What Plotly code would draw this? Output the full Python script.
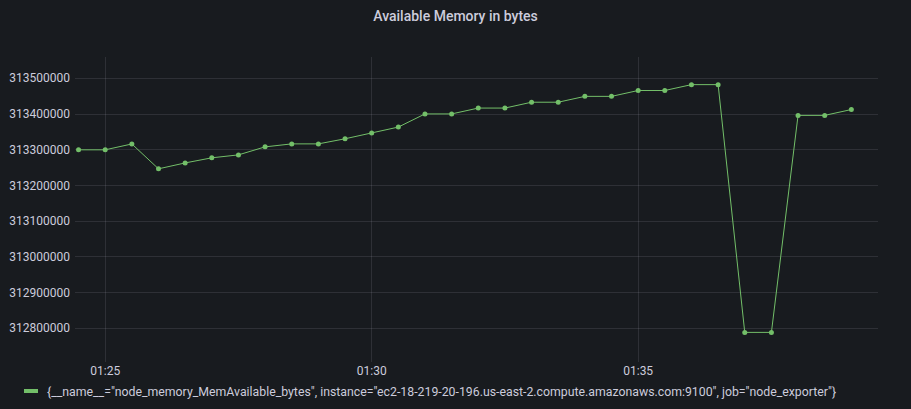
import plotly.graph_objects as go

TITLE = "Available Memory in bytes"
SERIES_NAME = '{__name__="node_memory_MemAvailable_bytes", instance="ec2-18-219-20-196.us-east-2.compute.amazonaws.com:9100", job="node_exporter"}'

DATE = "2021-01-01"
times = [
    "01:24:30", "01:25:00", "01:25:30", "01:26:00", "01:26:30", "01:27:00",
    "01:27:30", "01:28:00", "01:28:30", "01:29:00", "01:29:30", "01:30:00",
    "01:30:30", "01:31:00", "01:31:30", "01:32:00", "01:32:30", "01:33:00",
    "01:33:30", "01:34:00", "01:34:30", "01:35:00", "01:35:30", "01:36:00",
    "01:36:30", "01:37:00", "01:37:30", "01:38:00", "01:38:30", "01:39:00",
]
mem_available = [
    313299700, 313299700, 313316100, 313246500, 313263000, 313277300,
    313285500, 313308000, 313316300, 313316300, 313330600, 313347000,
    313363400, 313400200, 313400200, 313416600, 313416600, 313433000,
    313433000, 313449400, 313449400, 313465800, 313465800, 313482200,
    313482200, 312788500, 312788500, 313396100, 313396100, 313412500,
]
y_ticks = [312800000, 312900000, 313000000, 313100000, 313200000,
           313300000, 313400000, 313500000]
y_range = [312705600, 313559600]
x_range = [DATE + " 01:24:26", DATE + " 01:39:30"]

x = [DATE + " " + t for t in times]

BG = "#181b1f"
TEXT = "#ccccdc"
GRID = "rgba(204,204,220,0.12)"
GREEN = "#73bf69"

W, H = 911, 409
ML, MR, MT, MB = 75, 33, 57, 47
PW, PH = W - ML - MR, H - MT - MB


def px_x(p):
    return (p - ML) / PW


def px_y(p):
    return (H - MB - p) / PH


fig = go.Figure()
fig.add_trace(go.Scatter(
    x=x, y=mem_available, mode="lines+markers", name=SERIES_NAME,
    line=dict(color=GREEN, width=1),
    marker=dict(color=GREEN, size=5),
    showlegend=False, hoverinfo="x+y",
))

# Grafana-style legend: short thick colour bar + series label
fig.add_shape(type="rect", xref="paper", yref="paper",
              x0=px_x(24), x1=px_x(38), y0=px_y(393), y1=px_y(389),
              fillcolor=GREEN, line=dict(width=0), layer="above")
fig.add_annotation(text=SERIES_NAME, xref="paper", yref="paper",
                   x=px_x(45), y=px_y(392), xanchor="left", yanchor="middle",
                   showarrow=False, font=dict(size=12.3, color=TEXT))

fig.update_layout(
    width=W, height=H,
    paper_bgcolor=BG, plot_bgcolor=BG,
    margin=dict(l=ML, r=MR, t=MT, b=MB, autoexpand=False),
    font=dict(family="Roboto, Inter, sans-serif", size=12, color=TEXT),
    title=dict(text=TITLE, x=0.5, xanchor="center", xref="container",
               y=1 - 16 / H, yanchor="middle", yref="container",
               font=dict(size=14, color=TEXT, family="Roboto, sans-serif", weight=500)),
    showlegend=False,
    xaxis=dict(type="date", range=x_range, dtick=5 * 60 * 1000,
               tick0=DATE + " 01:25:00", tickformat="%H:%M",
               showgrid=True, gridcolor=GRID, gridwidth=1,
               zeroline=False, showline=False, ticks="", ticklen=0,
               tickfont=dict(size=12, color=TEXT)),
    yaxis=dict(range=y_range, tickvals=y_ticks,
               ticktext=[str(v) for v in y_ticks],
               showgrid=True, gridcolor=GRID, gridwidth=1,
               zeroline=False, showline=False, ticks="", ticklen=0,
               ticklabelstandoff=4,
               tickfont=dict(size=12, color=TEXT)),
)

fig.write_html("out.html", config={"displayModeBar": False},
               post_script="document.body.style.margin='0';")
